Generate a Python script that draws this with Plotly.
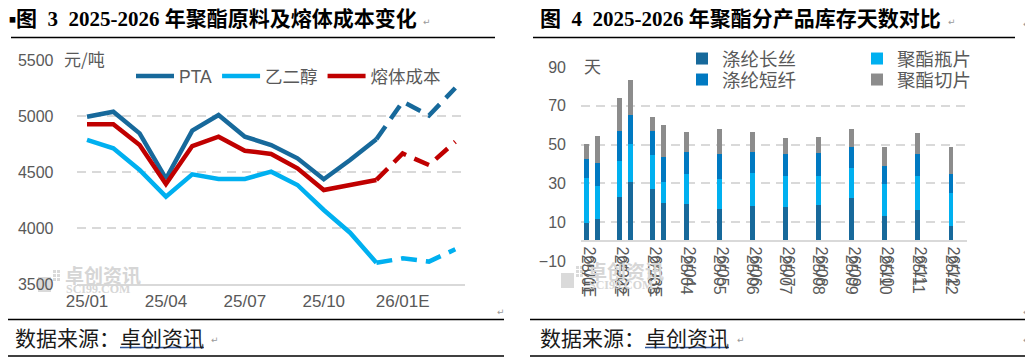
import plotly.graph_objects as go

W, H = 1033, 360
OFF = 8  # page body margin: figure is drawn 8px right/down of the window origin


def px(x):
    return (x - OFF) / W


def py(y):
    return 1 - (y - OFF) / H


# ---------------- Left chart data (元/吨) ----------------
line_labels = ["25/01", "25/02", "25/03", "25/04", "25/05", "25/06", "25/07", "25/08",
               "25/09", "25/10", "25/11", "25/12", "26/01E", "26/02E", "26/03E"]
pta = [4994, 5038, 4845, 4440, 4869, 5009, 4815, 4741, 4622, 4435, 4607, 4792, 5128, 5005, 5250]
meg = [4786, 4712, 4518, 4280, 4479, 4438, 4438, 4503, 4384, 4161, 3958, 3690, 3729, 3700, 3810]
melt = [4926, 4926, 4741, 4393, 4732, 4815, 4690, 4661, 4533, 4339, 4384, 4429, 4665, 4562, 4770]
actual_n = 12  # 25/01 - 25/12 actual, rest forecast
left_ticks = ["25/01", "25/04", "25/07", "25/10", "26/01E"]

# ---------------- Right chart data (天) ----------------
months = ["01", "02", "03", "04", "05", "06", "07", "08", "09", "10", "11", "12"]
filament_2025 = [9.5, 22.8, 26.9, 19.2, 16.7, 18.2, 17.7, 18.7, 22.3, 13.1, 16.2, 7.9]
bottle_2025 = [23.1, 19.0, 17.5, 15.9, 15.4, 17.4, 15.9, 14.9, 15.4, 16.4, 17.4, 17.0]
staple_2025 = [10.2, 15.4, 12.8, 11.3, 12.8, 10.8, 11.8, 12.3, 11.3, 9.7, 11.3, 10.2]
chip_2025 = [7.7, 16.9, 7.2, 10.3, 13.3, 10.3, 8.2, 8.2, 9.2, 9.8, 11.3, 13.9]
filament_2026 = [11.5, 30.5, 19.7]
bottle_2026 = [17.0, 20.0, 10.8]
staple_2026 = [11.8, 14.9, 13.3]
chip_2026 = [14.3, 17.9, 16.5]

GRAY_TXT = "#595959"
GRID = "#d9d9d9"
FONT = "Liberation Sans, Noto Sans CJK SC"
CJK = "Noto Sans CJK SC"

fig = go.Figure()

left_series = [("PTA", pta, "#17699B"), ("乙二醇", meg, "#00B0F0"), ("熔体成本", melt, "#C00000")]
for name, vals, color in left_series:
    fig.add_trace(go.Scatter(
        x=line_labels[:actual_n], y=vals[:actual_n], mode="lines", name=name,
        line=dict(color=color, width=4.5), xaxis="x", yaxis="y", legend="legend"))
    fig.add_trace(go.Scatter(
        x=line_labels[actual_n - 1:], y=vals[actual_n - 1:], mode="lines", name=name,
        showlegend=False, line=dict(color=color, width=4.5, dash="16px,9px"),
        xaxis="x", yaxis="y"))

# bars: 2025 at month index, 2026E slightly to the right
pos_2025 = [i + 1 for i in range(len(months))]
pos_2026 = [i + 1 + 1 / 3 for i in range(len(filament_2026))]
x_all = pos_2025 + pos_2026
stack = [
    ("涤纶长丝", filament_2025, filament_2026, "#17699B", "legend2"),
    ("聚酯瓶片", bottle_2025, bottle_2026, "#00B0F0", "legend3"),
    ("涤纶短纤", staple_2025, staple_2026, "#0079C1", "legend4"),
    ("聚酯切片", chip_2025, chip_2026, "#8C8C8C", "legend5"),
]
for name, v25, v26, color, leg in stack:
    fig.add_trace(go.Bar(
        x=x_all, y=v25 + v26, name=name, marker=dict(color=color, line=dict(width=0)),
        width=0.15, xaxis="x2", yaxis="y2", legend=leg))

labels_25 = ["25/" + m for m in months]
labels_26 = ["26/" + m + ("E" if i < len(filament_2026) else "") for i, m in enumerate(months)]
# empty carrier so the second label row (2026) is drawn
fig.add_trace(go.Scatter(x=[p + 0.08 for p in pos_2025], y=[None] * len(pos_2025), mode="lines",
                         showlegend=False, hoverinfo="skip", xaxis="x3", yaxis="y2"))


def leg(x, y, size):
    return dict(orientation="h", x=px(x), y=py(y), xanchor="left", yanchor="middle",
                font=dict(size=size, color=GRAY_TXT, family=FONT), bgcolor="rgba(0,0,0,0)",
                traceorder="normal", tracegroupgap=0)


fig.update_layout(
    width=W, height=H, margin=dict(l=0, r=0, t=0, b=0, autoexpand=False),
    paper_bgcolor="white", plot_bgcolor="white",
    barmode="stack", font=dict(family=FONT, color=GRAY_TXT),
    xaxis=dict(domain=[px(76.5), px(464.5)], range=[-0.4, 14.35], type="category",
               tickvals=left_ticks, ticktext=left_ticks, showgrid=False, zeroline=False,
               showline=True, linecolor=GRID, linewidth=2, ticks="",
               tickfont=dict(size=17, color=GRAY_TXT), ticklabelstandoff=1, anchor="y"),
    yaxis=dict(domain=[py(284), py(60)], range=[3500, 5500], tickvals=[3500, 4000, 4500, 5000, 5500],
               showgrid=True, gridcolor=GRID, gridwidth=2, griddash="9px,6px", zeroline=False,
               showline=False, ticks="", tickfont=dict(size=16, color=GRAY_TXT),
               ticklabelstandoff=22, anchor="x"),
    xaxis2=dict(domain=[px(581), px(967)], range=[0.828, 12.483], anchor="free",
                position=py(240.5), tickvals=pos_2025, ticktext=labels_25, tickangle=90,
                showgrid=False, zeroline=False, showline=True, linecolor=GRID, linewidth=2,
                ticks="", tickfont=dict(size=16, color=GRAY_TXT), ticklabelstandoff=10),
    xaxis3=dict(domain=[px(581), px(967)], range=[0.828, 12.483], anchor="free",
                position=py(240.5), overlaying="x2", tickvals=[p + 0.08 for p in pos_2025],
                ticktext=labels_26, tickangle=90, showgrid=False, zeroline=False,
                showline=False, ticks="", tickfont=dict(size=16, color=GRAY_TXT),
                ticklabelstandoff=5),
    yaxis2=dict(domain=[py(261), py(67)], range=[-10, 90], tick0=-10, dtick=20,
                showgrid=True, gridcolor=GRID, gridwidth=2, griddash="9px,6px", zeroline=False,
                showline=False, ticks="", tickfont=dict(size=16, color=GRAY_TXT),
                ticklabelstandoff=14, anchor="x2"),
    legend=dict(orientation="h", x=px(131), y=py(76), xanchor="left", yanchor="middle",
                font=dict(size=17.5, color=GRAY_TXT, family=FONT), bgcolor="rgba(0,0,0,0)",
                itemwidth=38, tracegroupgap=0),
    legend2=leg(682, 59, 18.5),
    legend3=leg(857, 59, 18.5),
    legend4=leg(682, 80, 18.5),
    legend5=leg(857, 80, 18.5),
)

shapes = []
black_lines = [(3, 503, 3), (523, 1023, 3), (11, 495, 37.5), (533, 1015, 37.5),
               (3, 504, 319.5), (530, 1033, 319.5), (3, 504, 356), (530, 1033, 356)]
for x0, x1, y in black_lines:
    shapes.append(dict(type="line", xref="paper", yref="paper", x0=px(x0), x1=px(x1),
                       y0=py(y), y1=py(y), line=dict(color="black", width=1.5)))
# source underline
for x0, x1 in [(120, 204), (645, 729)]:
    shapes.append(dict(type="line", xref="paper", yref="paper", x0=px(x0), x1=px(x1),
                       y0=py(347.5), y1=py(347.5), line=dict(color="#2F5597", width=1.5)))
# watermark logos
for lx, ly in [(38, 268), (561, 264)]:
    shapes.append(dict(type="rect", xref="paper", yref="paper", x0=px(lx), x1=px(lx + 13),
                       y0=py(ly + 24), y1=py(ly + 9), fillcolor="#dadada", line=dict(width=0),
                       layer="below"))
    for dx, dy in [(15, 2), (19, 2), (15, 6), (19, 6), (15, 10), (19, 10)]:
        shapes.append(dict(type="rect", xref="paper", yref="paper", x0=px(lx + dx),
                           x1=px(lx + dx + 3), y0=py(ly + dy + 3), y1=py(ly + dy),
                           fillcolor="#dadada", line=dict(width=0), layer="below"))
fig.update_layout(shapes=shapes)

ann = []


def text(x, y, t, size, color="black", family=FONT, xanchor="left", **kw):
    ann.append(dict(x=px(x), y=py(y), xref="paper", yref="paper", text=t, showarrow=False,
                    xanchor=xanchor, yanchor="middle", font=dict(size=size, color=color,
                                                                 family=family), **kw))


TITLE_FONT = "Liberation Serif, Noto Sans CJK SC"
SP = "&nbsp;&nbsp;"
text(7, 19, "■", 7, "black", CJK)
text(14, 19, "<b>图" + SP + "3" + SP + "2025-2026 年聚酯原料及熔体成本变化</b>", 21, "black", TITLE_FONT)
text(538, 19, "<b>图" + SP + "4" + SP + "2025-2026 年聚酯分产品库存天数对比</b>", 21, "black", TITLE_FONT)
# paragraph marks
for x, y in [(421, 22), (946, 22), (1021, 24), (495, 312), (1021, 312), (209, 340),
             (735, 340), (1021, 340)]:
    text(x, y, "↵", 9, "#9a9a9a", "DejaVu Sans")
# axis unit titles
text(62, 59, "元/吨", 17, GRAY_TXT, CJK)
text(582, 66, "天", 17, GRAY_TXT, CJK)
# source lines
text(13, 337, "数据来源：卓创资讯", 21, "#1a1a1a", CJK)
text(538, 337, "数据来源：卓创资讯", 21, "#1a1a1a", CJK)
# watermarks
for lx, ly in [(38, 268), (561, 264)]:
    text(lx + 25, ly + 6, "<b>卓创资讯</b>", 19, "#d6d6d6", CJK)
    text(lx + 26, ly + 21, "<b>SCI99.COM</b>", 12, "#d6d6d6", "Liberation Serif")
fig.update_layout(annotations=ann)

fig.write_html("out.html")
